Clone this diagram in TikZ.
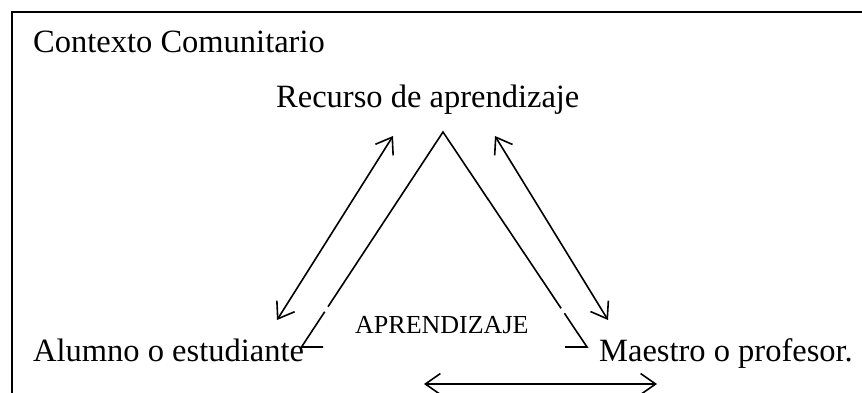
\documentclass[tikz,border=0pt]{standalone}
\usepackage{fontspec}
\setmainfont{Liberation Serif}
\usetikzlibrary{arrows.meta,calc}
\begin{document}
\begin{tikzpicture}[x=1pt,y=-1pt,
  lbl/.style={anchor=base west, inner sep=0pt, font=\fontsize{32.5}{38}\selectfont},
  smalllbl/.style={anchor=base west, inner sep=0pt, font=\fontsize{26}{30}\selectfont},
  tri/.style={line width=1.6pt},
  dbl/.style={line width=1.6pt, {Straight Barb[length=15pt,width=21pt]}-{Straight Barb[length=15pt,width=21pt]}}]
\useasboundingbox (0,0) rectangle (862,392);
\clip (0,0) rectangle (862,392);
\draw[line width=2pt] (11.5,400) -- (11.5,11.5) -- (870,11.5);

\node[lbl] (ctx) at (33,52) {Contexto Comunitario};
\node[lbl] (rec) at (276,107) {Recurso de aprendizaje};
\node[lbl] (alu) at (33,361) {Alumno o estudiante};
\node[lbl] (mae) at (599,361) {Maestro o profesor.};
\node[smalllbl] (apr) at (355,333) {APRENDIZAJE};

\coordinate (A) at (443,132);
\coordinate (L) at (301.5,347);
\coordinate (R) at (587,347);
\coordinate (Lt) at (323,347);
\coordinate (Rt) at (565,347);
\draw[tri] ($(A)!0.8126!(L)$) -- (A) -- ($(A)!0.82!(R)$);
\draw[tri] ($(A)!0.836!(L)$) -- (L) -- (Lt);
\draw[tri] ($(A)!0.843!(R)$) -- (R) -- (Rt);

\coordinate (a1) at (277,320);
\coordinate (a2) at (393,136);
\coordinate (b1) at (608,320);
\coordinate (b2) at (495,136);
\coordinate (c1) at (424,384);
\coordinate (c2) at (657,384);
\draw[dbl] (a1) -- (a2);
\draw[dbl] (b1) -- (b2);
\draw[dbl] (c1) -- (c2);
\end{tikzpicture}
\end{document}
